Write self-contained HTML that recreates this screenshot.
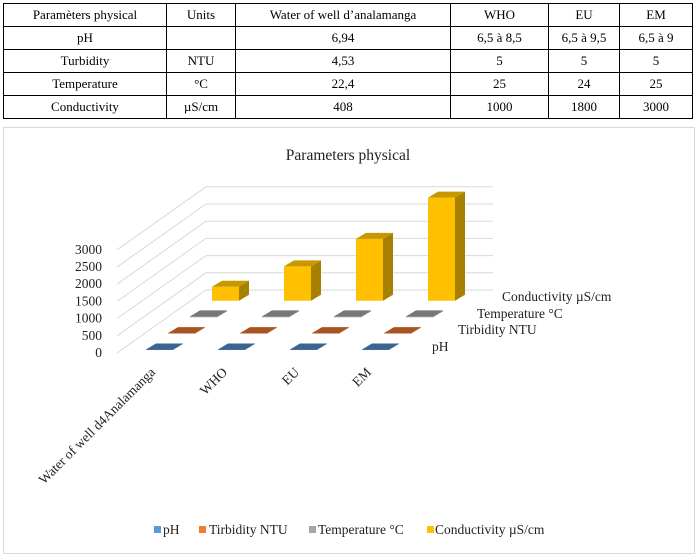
<!DOCTYPE html>
<html><head><meta charset="utf-8"><style>
body{margin:0;background:#fff;width:698px;height:557px;overflow:hidden;font-family:"Liberation Serif",serif;}
table{position:absolute;left:3px;top:3px;border-collapse:collapse;font-size:13px;color:#000;}
td{border:1px solid #000;text-align:center;height:22px;padding:0;}
#chart{position:absolute;left:3px;top:127px;width:690px;height:425px;border:1px solid #d9d9d9;}
</style></head><body>
<table>
<tr><td style="width:162px">Paramèters physical</td><td style="width:68px">Units</td><td style="width:214px">Water of well d’analamanga</td><td style="width:97px">WHO</td><td style="width:70px">EU</td><td style="width:72px">EM</td></tr>
<tr><td>pH</td><td></td><td>6,94</td><td>6,5 à 8,5</td><td>6,5 à 9,5</td><td>6,5 à 9</td></tr>
<tr><td>Turbidity</td><td>NTU</td><td>4,53</td><td>5</td><td>5</td><td>5</td></tr>
<tr><td>Temperature</td><td>°C</td><td>22,4</td><td>25</td><td>24</td><td>25</td></tr>
<tr><td>Conductivity</td><td>µS/cm</td><td>408</td><td>1000</td><td>1800</td><td>3000</td></tr>
</table>
<div id="chart"></div>
<svg id="svg" width="698" height="557" style="position:absolute;left:0;top:0"></svg>
<script>
const categories=["Water of well d4Analamanga","WHO","EU","EM"];
const seriesNames=["pH","Tirbidity NTU","Temperature °C","Conductivity µS/cm"];
const phValues=[6.94,7.5,8,7.75];
const turbidityValues=[4.53,5,5,5];
const temperatureValues=[22.4,25,24,25];
const conductivityValues=[408,1000,1800,3000];
const yTicks=[0,500,1000,1500,2000,2500,3000];
const series=[phValues,turbidityValues,temperatureValues,conductivityValues];
const colors=[["#4a78a8","#3b6591","#3b6591"],["#c0622b","#a65424","#a65424"],["#8a8a8a","#777","#777"],["#ffc000","#c89800","#a88000"]];
const legendColors=["#5b9bd5","#ed7d31","#a5a5a5","#ffc000"];
const NS="http://www.w3.org/2000/svg";
const svg=document.getElementById('svg');
const FS=13.5;
function el(t,a){const e=document.createElementNS(NS,t);for(const k in a)e.setAttribute(k,a[k]);svg.appendChild(e);return e;}
const pxPer=17.2/500;
function yScale(v){return v*pxPer;}
function baseX(c,s){return 146+c*72+s*22;}
function baseY(s){return 350-s*16.4;}
yTicks.forEach((t,i)=>{
  const fy=353-yScale(t), by=290-yScale(t);
  const d=el('line',{x1:117,y1:fy,x2:206,y2:by,stroke:'#d9d9d9'});
  
  
  const h=el('line',{x1:206,y1:by,x2:493,y2:by,stroke:'#d9d9d9'});
  
  
  const l=el('text',{x:102,y:fy+4,'text-anchor':'end','font-size':FS,fill:'#222'});
  l.textContent=t;
  
  
});
for(let s=3;s>=0;s--){
  for(let c=0;c<4;c++){
    const x=baseX(c,s),y=baseY(s),h=Math.max(yScale(series[s][c]),0.5),w=27,dx=10,dy=-6;
    const col=colors[s];
    const g=document.createElementNS(NS,'g');svg.appendChild(g);
    
    
    const f=(pts,fill)=>{const p=document.createElementNS(NS,'polygon');p.setAttribute('points',pts);p.setAttribute('fill',fill);g.appendChild(p);};
    f(`${x},${y} ${x+w},${y} ${x+w},${y-h} ${x},${y-h}`,col[0]);
    f(`${x+w},${y} ${x+w+dx},${y+dy} ${x+w+dx},${y+dy-h} ${x+w},${y-h}`,col[2]);
    f(`${x},${y-h} ${x+w},${y-h} ${x+w+dx},${y+dy-h} ${x+dx},${y+dy-h}`,col[1]);
  }
}
[[432,350],[458,333],[477,317],[502,300]].forEach((p,i)=>{
  const t=el('text',{x:p[0],y:p[1]+1,'font-size':FS,fill:'#222'});
  t.textContent=seriesNames[i];
  
  
});
categories.forEach((c,i)=>{
  const x=156+i*72,y=373;
  const t=el('text',{x:x,y:y,'text-anchor':'end','font-size':FS,fill:'#222',transform:`rotate(-45 ${x} ${y})`});
  t.textContent=c;
  
  
});
const title=el('text',{x:348,y:160,'text-anchor':'middle','font-size':15.5,fill:'#222'});
title.textContent="Parameters physical";


[[154,163],[199,209],[309,318],[427,435]].forEach((p,i)=>{
  const r=el('rect',{x:p[0],y:526,width:7,height:7,fill:legendColors[i]});
  
  
  const t=el('text',{x:p[1],y:534,'font-size':FS,fill:'#222'});
  t.textContent=seriesNames[i];
  
  
});
</script>
</body></html>
